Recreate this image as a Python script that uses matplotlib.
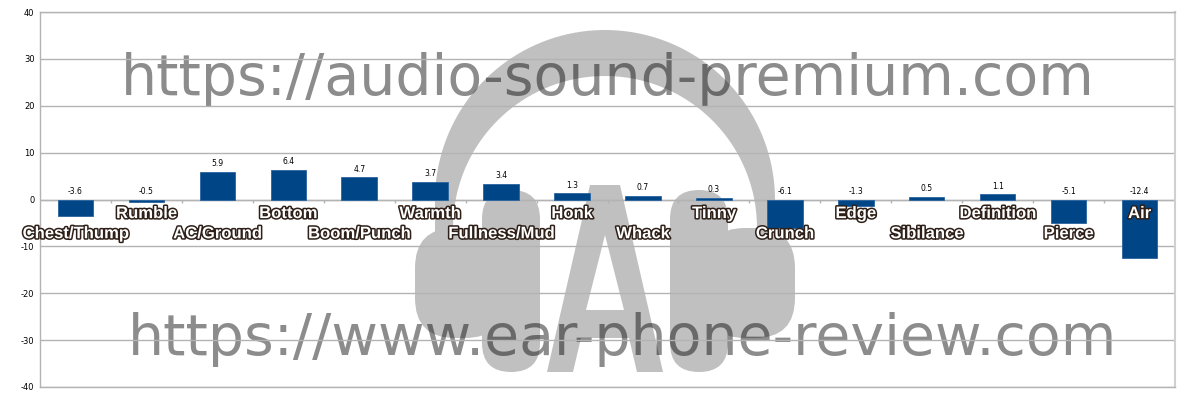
import numpy as np
import matplotlib.pyplot as plt
import matplotlib.patheffects as pe
from matplotlib.patches import FancyBboxPatch, Polygon

# %% data
bands = ['Chest/Thump', 'Rumble', 'AC/Ground', 'Bottom', 'Boom/Punch', 'Warmth',
         'Fullness/Mud', 'Honk', 'Whack', 'Tinny', 'Crunch', 'Edge', 'Sibilance',
         'Definition', 'Pierce', 'Air']
values = [-3.6, -0.5, 5.9, 6.4, 4.7, 3.7, 3.4, 1.3, 0.7, 0.3, -6.1, -1.3, 0.5, 1.1, -5.1, -12.4]
yticks = [-40, -30, -20, -10, 0, 10, 20, 30, 40]

watermark_top = 'https://audio-sound-premium.com'
watermark_bottom = 'https://www.ear-phone-review.com'

# %% figure
fig = plt.figure(figsize=(12, 4), dpi=100, facecolor='white')

# background layer for the watermark, in pixel coords (y down)
bg = fig.add_axes([0, 0, 1, 1], zorder=0)
bg.set_xlim(0, 1200)
bg.set_ylim(400, 0)
bg.axis('off')

logo_c = '#c0c0c0'
cx = 605
# headband: outer circle minus a lower inner circle, with short legs
t = np.linspace(np.pi, 0, 80)
outer = np.c_[cx + 170 * np.cos(t), 200 - 170 * np.sin(t)]
inner = np.c_[cx + 152 * np.cos(t[::-1]), 228 - 152 * np.sin(t[::-1])]
band = np.vstack([outer, [[cx + 170, 245], [cx + 152, 245]], inner,
                  [[cx - 152, 245], [cx - 170, 245]]])
bg.add_patch(Polygon(band, closed=True, color=logo_c, lw=0))
# ear cups + pads
for left in (True, False):
    bg.add_patch(FancyBboxPatch((cx - 190 if left else cx + 100, 228), 90, 110,
                                boxstyle='round,pad=0,rounding_size=40', color=logo_c, lw=0))
    bg.add_patch(FancyBboxPatch((cx - 123 if left else cx + 65, 190), 58, 182,
                                boxstyle='round,pad=0,rounding_size=29', color=logo_c, lw=0))
# big "A"
bg.add_patch(Polygon([(590, 185), (620, 185), (663, 372), (637, 372), (629, 338),
                      (581, 338), (573, 372), (547, 372)], closed=True, color=logo_c, lw=0))
bg.add_patch(Polygon([(605, 235), (586, 310), (624, 310)], closed=True, color='white', lw=0))

bg.text(608, 95, watermark_top, fontsize=41, family='DejaVu Sans', color='black',
        alpha=0.45, ha='center', va='baseline', zorder=3)
bg.text(623, 355, watermark_bottom, fontsize=41, family='DejaVu Sans', color='black',
        alpha=0.45, ha='center', va='baseline', zorder=3)

# %% chart
ax = fig.add_axes([40 / 1200, 13 / 400, 1135 / 1200, 375 / 400], zorder=1)
ax.patch.set_alpha(0)

x = np.arange(len(bands))
ax.bar(x, values, width=0.5, color='#004586', edgecolor='#2a64a0', linewidth=0.6, zorder=3)

ax.set_xlim(-0.5, len(bands) - 0.5)
ax.set_ylim(-40, 40)
ax.set_yticks(yticks)
ax.set_yticklabels([str(t) for t in yticks], fontsize=6)
ax.tick_params(axis='y', length=0, pad=4)
ax.set_xticks([])
ax.yaxis.grid(True, color='#b3b3b3', linewidth=1)
ax.set_axisbelow(True)
for s in ax.spines.values():
    s.set_color('#b3b3b3')
    s.set_linewidth(1)
ax.spines['right'].set_color('#d0d0d0')
ax.spines['right'].set_linewidth(1.5)

# zero line with category separators
ax.axhline(0, color='#b3b3b3', linewidth=1, zorder=2)
ax.vlines(x[:-1] + 0.5, -0.7, 0, color='#b3b3b3', linewidth=1, zorder=2)

# value labels
for xi, v in zip(x, values):
    ax.text(xi, max(v, 0) + 0.8, f'{v:.1f}', ha='center', va='bottom', fontsize=5.5,
            color='black', zorder=4)

# category labels, staggered
for xi, name in zip(x, bands):
    ypos = -3.0 if xi % 2 else -7.3
    ax.text(xi, ypos, name, ha='center', va='center', fontsize=12, fontweight='bold',
            family='Liberation Sans', color='white', zorder=5,
            path_effects=[pe.withStroke(linewidth=2.2, foreground='#2e2018')])

fig.savefig('out.png', dpi=100, facecolor='white')
